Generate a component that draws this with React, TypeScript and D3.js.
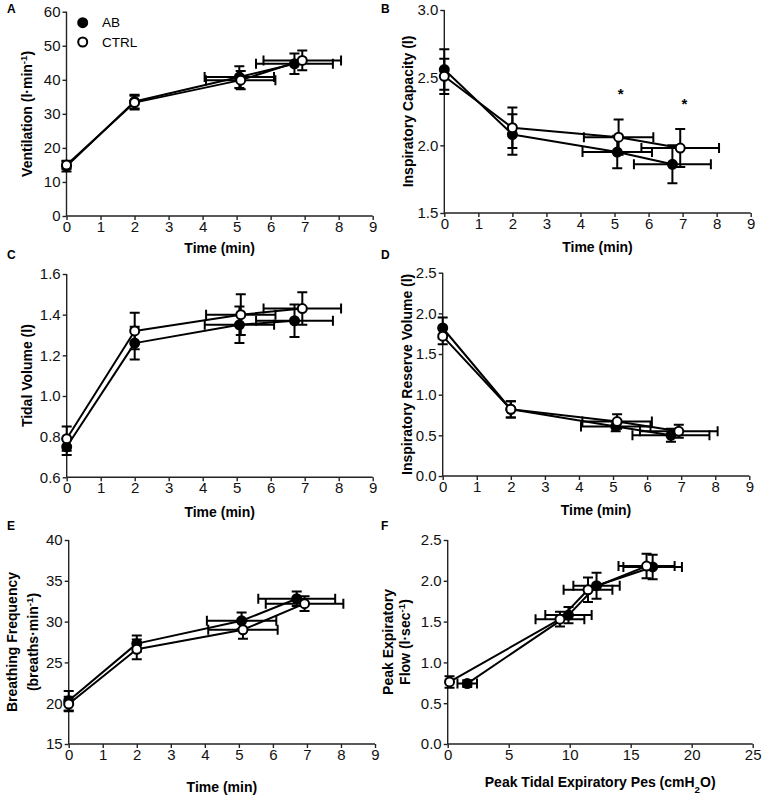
import React, { useEffect, useRef } from "react";
import * as d3 from "d3";

// exercise time (min) for the two groups, shared by panels A-E
const timeAB = [0, 2, 5.08, 6.7];
const timeABErr = [0, 0, 1.02, 1.13];
const timeCTRL = [0, 2, 5.12, 6.93];
const timeCTRLErr = [0, 0, 1.02, 1.14];

const ventAB = [14.6, 33.6, 40.8, 44.7];
const ventABErr = [1.5, 2, 3.2, 3];
const ventCTRL = [15.0, 33.3, 39.9, 45.7];
const ventCTRLErr = [1.2, 2, 2.7, 2.9];

const icAB = [2.56, 2.08, 1.95, 1.86];
const icABErr = [0.15, 0.15, 0.12, 0.14];
const icCTRL = [2.51, 2.13, 2.06, 1.98];
const icCTRLErr = [0.13, 0.15, 0.13, 0.14];
const icStarX = [5.18, 7.05];
const icStarY = [2.4, 2.33];

const vtAB = [0.75, 1.26, 1.35, 1.37];
const vtABErr = [0.04, 0.08, 0.09, 0.08];
const vtCTRL = [0.79, 1.32, 1.4, 1.43];
const vtCTRLErr = [0.06, 0.09, 0.1, 0.08];

const irvAB = [1.82, 0.82, 0.61, 0.5];
const irvABErr = [0.13, 0.1, 0.06, 0.08];
const irvCTRL = [1.72, 0.82, 0.67, 0.55];
const irvCTRLErr = [0.1, 0.1, 0.09, 0.08];

const bfAB = [20.3, 27.3, 30.1, 32.8];
const bfABErr = [1.2, 1.0, 1.0, 0.9];
const bfCTRL = [19.9, 26.6, 29.0, 32.2];
const bfCTRLErr = [0.9, 1.2, 1.1, 0.9];

// panel F: peak tidal expiratory Pes vs peak expiratory flow
const pesAB = [1.6, 9.9, 12.2, 16.8];
const pesABErr = [0.8, 1.9, 1.9, 2.4];
const pefAB = [0.74, 1.58, 1.94, 2.17];
const pefABErr = [0.04, 0.1, 0.16, 0.15];
const pesCTRL = [0.15, 9.2, 11.5, 16.3];
const pesCTRLErr = [0, 2.0, 2.0, 2.3];
const pefCTRL = [0.76, 1.53, 1.89, 2.18];
const pefCTRLErr = [0.07, 0.09, 0.15, 0.15];

const timeTicks = d3.range(0, 10);

const FONT = "'Liberation Sans', Arial, sans-serif";
const TICK_FS = 15;
const TITLE_FS = 14;

const panels = [
  {
    letter: "A", lx: 7, ly: 13,
    box: [66.5, 11.7, 372.7, 216],
    xDomain: [0, 9], xTicks: timeTicks, xFmt: "d",
    yDomain: [0, 60], yTicks: d3.range(0, 61, 10), yFmt: "d",
    xTitle: [["Time (min)", ""]], xTitleY: 253,
    yTitle: [[["Ventilation (l·min", ""], ["-1", "sup"], [")", ""]]], yTitleX: [27],
    ab: { x: timeAB, xe: timeABErr, y: ventAB, ye: ventABErr },
    ctrl: { x: timeCTRL, xe: timeCTRLErr, y: ventCTRL, ye: ventCTRLErr },
    legend: true,
  },
  {
    letter: "B", lx: 381, ly: 13,
    box: [444.3, 10, 750.7, 213],
    xDomain: [0, 9], xTicks: timeTicks, xFmt: "d",
    yDomain: [1.5, 3.0], yTicks: [1.5, 2.0, 2.5, 3.0], yFmt: ".1f",
    xTitle: [["Time (min)", ""]], xTitleY: 252,
    yTitle: [[["Inspiratory Capacity (l)", ""]]], yTitleX: [408],
    ab: { x: timeAB, xe: timeABErr, y: icAB, ye: icABErr },
    ctrl: { x: timeCTRL, xe: timeCTRLErr, y: icCTRL, ye: icCTRLErr },
    stars: true,
  },
  {
    letter: "C", lx: 7, ly: 259,
    box: [66.7, 274, 372.7, 477.3],
    xDomain: [0, 9], xTicks: timeTicks, xFmt: "d",
    yDomain: [0.6, 1.6], yTicks: [0.6, 0.8, 1.0, 1.2, 1.4, 1.6], yFmt: ".1f",
    xTitle: [["Time (min)", ""]], xTitleY: 517,
    yTitle: [[["Tidal Volume (l)", ""]]], yTitleX: [27],
    ab: { x: timeAB, xe: timeABErr, y: vtAB, ye: vtABErr },
    ctrl: { x: timeCTRL, xe: timeCTRLErr, y: vtCTRL, ye: vtCTRLErr },
  },
  {
    letter: "D", lx: 381, ly: 259,
    box: [442.7, 272.7, 749.3, 476],
    xDomain: [0, 9], xTicks: timeTicks, xFmt: "d",
    yDomain: [0, 2.5], yTicks: [0, 0.5, 1.0, 1.5, 2.0, 2.5], yFmt: ".1f",
    xTitle: [["Time (min)", ""]], xTitleY: 515,
    yTitle: [[["Inspiratory Reserve Volume (l)", ""]]], yTitleX: [407],
    ab: { x: timeAB, xe: timeABErr, y: irvAB, ye: irvABErr },
    ctrl: { x: timeCTRL, xe: timeCTRLErr, y: irvCTRL, ye: irvCTRLErr },
  },
  {
    letter: "E", lx: 7, ly: 530,
    box: [68.7, 540, 375, 744],
    xDomain: [0, 9], xTicks: timeTicks, xFmt: "d",
    yDomain: [15, 40], yTicks: d3.range(15, 41, 5), yFmt: "d",
    xTitle: [["Time (min)", ""]], xTitleY: 792,
    yTitle: [
      [["Breathing Frequency", ""]],
      [["(breaths·min", ""], ["-1", "sup"], [")", ""]],
    ],
    yTitleX: [12, 33],
    ab: { x: timeAB, xe: timeABErr, y: bfAB, ye: bfABErr },
    ctrl: { x: timeCTRL, xe: timeCTRLErr, y: bfCTRL, ye: bfCTRLErr },
  },
  {
    letter: "F", lx: 381, ly: 530,
    box: [447.7, 540, 752.7, 744],
    xDomain: [0, 25], xTicks: d3.range(0, 26, 5), xFmt: "d",
    yDomain: [0, 2.5], yTicks: [0, 0.5, 1.0, 1.5, 2.0, 2.5], yFmt: ".1f",
    xTitle: [["Peak Tidal Expiratory Pes (cmH", ""], ["2", "sub"], ["O)", ""]], xTitleY: 787,
    yTitle: [
      [["Peak Expiratory", ""]],
      [["Flow (l·sec", ""], ["-1", "sup"], [")", ""]],
    ],
    yTitleX: [388, 405],
    ab: { x: pesAB, xe: pesABErr, y: pefAB, ye: pefABErr },
    ctrl: { x: pesCTRL, xe: pesCTRLErr, y: pefCTRL, ye: pefCTRLErr },
  },
];

function addRuns(text, runs) {
  runs.forEach(([str, kind]) => {
    const t = text.append("tspan").text(str);
    if (kind === "sup") t.attr("baseline-shift", "super").attr("font-size", "0.7em");
    if (kind === "sub") t.attr("baseline-shift", "sub").attr("font-size", "0.7em");
  });
}

export default function App() {
  const svgRef = useRef(null);

  useEffect(() => {
    const svg = d3.select(svgRef.current);
    svg.selectAll("*").remove();

    panels.forEach((p) => {
      const [x0, y0, x1, y1] = p.box;
      const x = d3.scaleLinear().domain(p.xDomain).range([x0, x1]);
      const y = d3.scaleLinear().domain(p.yDomain).range([y1, y0]);
      const g = svg.append("g");

      g.append("text")
        .attr("x", p.lx).attr("y", p.ly)
        .attr("font-family", FONT).attr("font-weight", "bold").attr("font-size", 12)
        .text(p.letter);

      const xAxis = g.append("g")
        .attr("transform", `translate(0,${y1})`)
        .call(d3.axisBottom(x).tickValues(p.xTicks).tickFormat(d3.format(p.xFmt)).tickSize(4).tickPadding(1));
      const yAxis = g.append("g")
        .attr("transform", `translate(${x0},0)`)
        .call(d3.axisLeft(y).tickValues(p.yTicks).tickFormat(d3.format(p.yFmt)).tickSize(4).tickPadding(2));
      [xAxis, yAxis].forEach((a) => {
        a.attr("font-size", TICK_FS).attr("font-family", FONT);
        a.selectAll("path, line").attr("stroke", "#222").attr("stroke-width", 1.4);
        a.select(".domain").remove();
        a.selectAll("text").attr("fill", "#111");
      });
      g.append("line").attr("x1", x0).attr("x2", x1).attr("y1", y1).attr("y2", y1)
        .attr("stroke", "#222").attr("stroke-width", 1.4);
      g.append("line").attr("x1", x0).attr("x2", x0).attr("y1", y0).attr("y2", y1)
        .attr("stroke", "#222").attr("stroke-width", 1.4);

      // axis titles
      const xt = g.append("text")
        .attr("x", (x0 + x1) / 2).attr("y", p.xTitleY)
        .attr("text-anchor", "middle")
        .attr("font-family", FONT).attr("font-weight", "bold").attr("font-size", TITLE_FS);
      addRuns(xt, p.xTitle);

      p.yTitle.forEach((line, i) => {
        const cx = p.yTitleX[i];
        const cy = (y0 + y1) / 2;
        const yt = g.append("text")
          .attr("transform", `translate(${cx},${cy}) rotate(-90)`)
          .attr("text-anchor", "middle")
          .attr("dy", "0.35em")
          .attr("font-family", FONT).attr("font-weight", "bold").attr("font-size", TITLE_FS);
        addRuns(yt, line);
      });

      const series = [
        { d: p.ab, fill: "#000" },
        { d: p.ctrl, fill: "#fff" },
      ];
      const line = d3.line().x((d) => x(d[0])).y((d) => y(d[1]));

      series.forEach((s) => {
        const pts = s.d.x.map((v, i) => [v, s.d.y[i]]);
        g.append("path").datum(pts)
          .attr("d", line).attr("fill", "none")
          .attr("stroke", "#000").attr("stroke-width", 2).attr("stroke-linejoin", "round");
      });

      series.forEach((s) => {
        const eg = g.append("g").attr("stroke", "#000").attr("stroke-width", 2).attr("fill", "none");
        s.d.x.forEach((xv, i) => {
          const yv = s.d.y[i];
          const cx = x(xv);
          const cy = y(yv);
          const ye = s.d.ye[i];
          const xe = s.d.xe[i];
          if (ye > 0) {
            const top = y(yv + ye);
            const bot = y(yv - ye);
            eg.append("path").attr("d", `M${cx},${top}V${bot}M${cx - 5},${top}H${cx + 5}M${cx - 5},${bot}H${cx + 5}`);
          }
          if (xe > 0) {
            const l = x(xv - xe);
            const r = x(xv + xe);
            eg.append("path").attr("d", `M${l},${cy}H${r}M${l},${cy - 5}V${cy + 5}M${r},${cy - 5}V${cy + 5}`);
          }
        });
        g.append("g").selectAll("circle")
          .data(s.d.x.map((v, i) => [v, s.d.y[i]]))
          .join("circle")
          .attr("cx", (d) => x(d[0])).attr("cy", (d) => y(d[1]))
          .attr("r", 4.5)
          .attr("fill", s.fill).attr("stroke", "#000").attr("stroke-width", 2);
      });

      if (p.stars) {
        icStarX.forEach((sx, i) => {
          g.append("text")
            .attr("x", x(sx)).attr("y", y(icStarY[i]) + 8)
            .attr("text-anchor", "middle")
            .attr("font-family", FONT).attr("font-weight", "bold").attr("font-size", 15)
            .text("*");
        });
      }

      if (p.legend) {
        const items = [["AB", "#000"], ["CTRL", "#fff"]];
        items.forEach(([name, fill], i) => {
          const ly = 22.7 + i * 19.3;
          g.append("circle").attr("cx", 82.7).attr("cy", ly).attr("r", 4.5)
            .attr("fill", fill).attr("stroke", "#000").attr("stroke-width", 2);
          g.append("text").attr("x", 102).attr("y", ly).attr("dy", "0.35em")
            .attr("font-family", FONT).attr("font-size", 13.5).text(name);
        });
      }
    });
  }, []);

  return (
    <svg
      ref={svgRef}
      width={763}
      height={795}
      style={{ position: "absolute", left: 0, top: 0, background: "#fff" }}
    />
  );
}
